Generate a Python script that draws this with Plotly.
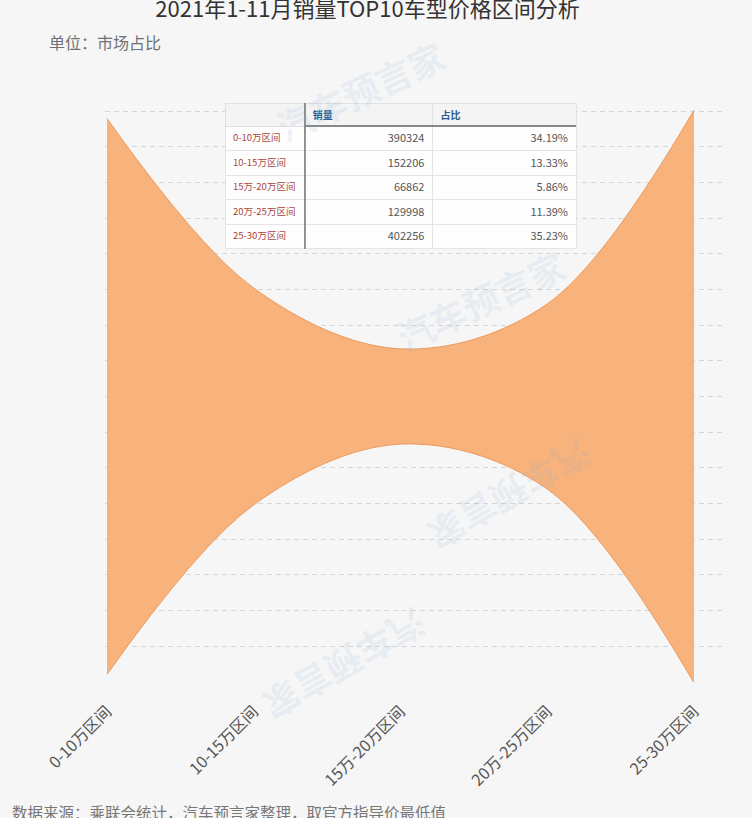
import plotly.graph_objects as go

# ---- data ----
categories = ["0-10万区间", "10-15万区间", "15万-20万区间", "20万-25万区间", "25-30万区间"]
sales = [390324, 152206, 66862, 129998, 402256]
shares = [34.19, 13.33, 5.86, 11.39, 35.23]

W, H = 752, 818
PL, PR, PT, PB = 105, 725, 75, 682          # plot area in px
X0PX, XSTEP = 107, 146.75                   # first category px, px per category
CYPX, SPX = 396.5, 8.14                     # centre line px, px per %
GRID = 35.7                                 # grid spacing px

xr0 = -(X0PX - PL) / XSTEP
xr1 = xr0 + (PR - PL) / XSTEP
ytop = (CYPX - PT) / SPX
ybot = -(PB - CYPX) / SPX
dy = GRID / SPX
tickv = [k * dy for k in range(-8, 10)]
eps = 0.05

idx = list(range(len(categories)))
upper = [v for v in shares]
lower = [-v for v in shares]

fig = go.Figure()
fig.add_trace(go.Scatter(x=idx, y=upper, mode="lines",
                         line=dict(shape="spline", smoothing=1.0, color="#ec9a5c", width=1),
                         hoverinfo="skip", showlegend=False))
fig.add_trace(go.Scatter(x=idx, y=lower, mode="lines", fill="tonexty",
                         fillcolor="#f8b27c",
                         line=dict(shape="spline", smoothing=1.0, color="#ec9a5c", width=1),
                         hoverinfo="skip", showlegend=False))

# ---- embedded table ----
tx0, tx1, ty0, ty1 = 225, 576, 103, 249
pw, ph = PR - PL, PB - PT
fig.add_trace(go.Table(
    domain=dict(x=[(tx0 - PL) / pw, (tx1 - PL) / pw],
                y=[(PB - ty1) / ph, (PB - ty0) / ph]),
    columnwidth=[80, 128, 144],
    header=dict(values=["", "销量", "占比"],
                fill_color="rgba(244,244,244,0.9)",
                line_color="rgba(225,225,225,1)",
                align="left", height=23,
                font=dict(size=10, color="#2a5d8f", family="Noto Sans CJK SC", weight="bold")),
    cells=dict(values=[categories, [str(s) for s in sales], [f"{v:.2f}%" for v in shares]],
               fill_color="rgba(255,255,255,0.85)",
               line_color="rgba(228,228,228,1)",
               align=["left", "right", "right"], height=24.5,
               font=dict(size=[9.5, 11, 11], color=["#a8463c", "#555555", "#555555"],
                         family="Noto Sans CJK SC")),
))

shapes = [
    dict(type="line", xref="paper", yref="paper",
         x0=(305 - PL) / pw, x1=(305 - PL) / pw,
         y0=(PB - ty1) / ph, y1=(PB - ty0) / ph,
         line=dict(color="#555555", width=1.2), layer="above"),
    dict(type="line", xref="paper", yref="paper",
         x0=(305 - PL) / pw, x1=(tx1 - PL) / pw,
         y0=(PB - 126) / ph, y1=(PB - 126) / ph,
         line=dict(color="#888888", width=2), layer="above"),
]

annotations = [
    dict(text="单位：市场占比", xref="paper", yref="paper",
         x=(47 - PL) / pw, y=(PB - 42) / ph, xanchor="left", yanchor="middle",
         showarrow=False, font=dict(size=16, color="#707070")),
    dict(text="数据来源：乘联会统计，汽车预言家整理，取官方指导价最低值", xref="paper", yref="paper",
         x=(10 - PL) / pw, y=(PB - 812) / ph, xanchor="left", yanchor="middle",
         showarrow=False, font=dict(size=15.5, color="#777777")),
]
# faint watermarks
for (wx, wy, ang) in [(360, 90, -25), (480, 300, -25), (510, 495, 150), (345, 665, 150)]:
    annotations.append(dict(text="<b>汽车预言家</b>", xref="paper", yref="paper",
                            x=(wx - PL) / pw, y=(PB - wy) / ph, showarrow=False,
                            xanchor="center", yanchor="middle",
                            textangle=ang, font=dict(size=36, color="rgba(120,170,210,0.13)")))

fig.update_layout(
    width=W, height=H,
    margin=dict(l=PL, r=W - PR, t=PT, b=H - PB, pad=0),
    paper_bgcolor="#f6f6f6", plot_bgcolor="#f6f6f6",
    font=dict(family="Noto Sans CJK SC"),
    title=dict(text="2021年1-11月销量TOP10车型价格区间分析", x=367.5 / W, xanchor="center",
               y=1 - 9 / H, yanchor="middle", font=dict(size=22, color="#333333")),
    xaxis=dict(range=[xr0, xr1], tickmode="array", tickvals=idx, ticktext=categories,
               tickangle=-45, showgrid=False, zeroline=False, showline=False,
               ticklabelstandoff=16,
               tickfont=dict(size=16, color="#555555"), fixedrange=True),
    yaxis=dict(range=[ybot - eps, ytop + eps], tickmode="array", tickvals=tickv,
               showticklabels=False,
               showgrid=True, gridcolor="#d5d5d5", gridwidth=1, griddash="5px,4px",
               zeroline=False, showline=False, fixedrange=True),
    shapes=shapes, annotations=annotations,
)

fig.write_html("out.html", config={"displayModeBar": False},
               post_script="document.body.style.margin='0';document.body.style.background='#f6f6f6';")
